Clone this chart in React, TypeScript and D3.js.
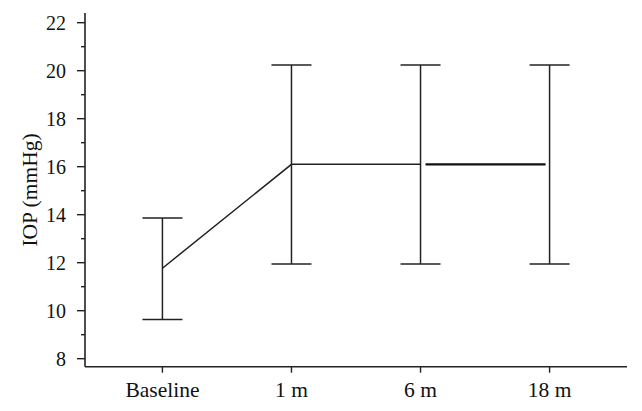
import React from "react";
import * as d3 from "d3";

const categories = ["Baseline", "1 m", "6 m", "18 m"];
const means = [11.77, 16.1, 16.1, 16.1];
const upper = [13.86, 20.24, 20.24, 20.24];
const lower = [9.63, 11.95, 11.95, 11.95];
const yTicks = [8, 10, 12, 14, 16, 18, 20, 22];
const yMinorTicks = [9, 11, 13, 15, 17, 19, 21];

const W = 642;
const H = 411;
const left = 85;
const right = 627;
const top = 13;
const bottom = 366.7;

export default function App() {
  const x = d3.scalePoint<string>().domain(categories).range([left, right]).padding(0.6);
  const y = d3.scaleLinear().domain([8, 22]).range([358.7, 22.7]);
  const font = "'Liberation Serif', 'Times New Roman', serif";
  const stroke = "#222";
  const cap = 20;

  const firstLine = d3
    .line<number>()
    .x((_, i) => x(categories[i]) as number)
    .y((d) => y(d));

  const pts = means.slice(0, 3);

  return (
    <svg
      width={W}
      height={H}
      style={{ position: "absolute", left: 0, top: 0, background: "#fff" }}
    >
      <rect width={W} height={H} fill="#fff" />
      <line x1={left} x2={left} y1={top} y2={bottom} stroke={stroke} strokeWidth={1.6} />
      <line x1={left} x2={right} y1={bottom} y2={bottom} stroke={stroke} strokeWidth={1.6} />
      {yTicks.map((t) => (
        <g key={"yt" + t}>
          <line x1={left - 8} x2={left} y1={y(t)} y2={y(t)} stroke={stroke} strokeWidth={1.4} />
          <text
            x={left - 19}
            y={y(t)}
            dy="0.35em"
            textAnchor="end"
            fontFamily={font}
            fontSize={20}
            fill="#111"
          >
            {t}
          </text>
        </g>
      ))}
      {yMinorTicks.map((t) => (
        <line key={"ym" + t} x1={left - 4} x2={left} y1={y(t)} y2={y(t)} stroke={stroke} strokeWidth={1.4} />
      ))}
      {categories.map((c) => (
        <g key={"xt" + c}>
          <line x1={x(c)} x2={x(c)} y1={bottom} y2={bottom + 6} stroke={stroke} strokeWidth={1.4} />
          <text
            x={x(c)}
            y={397.3}
            textAnchor="middle"
            fontFamily={font}
            fontSize={21.5}
            fill="#111"
          >
            {c}
          </text>
        </g>
      ))}
      <text
        transform={`translate(37, ${y(15.03)}) rotate(-90)`}
        textAnchor="middle"
        fontFamily={font}
        fontSize={21.5}
        fill="#111"
      >
        IOP (mmHg)
      </text>
      {categories.map((c, i) => {
        const cx = x(c) as number;
        return (
          <g key={"eb" + c}>
            <line x1={cx} x2={cx} y1={y(upper[i])} y2={y(lower[i])} stroke={stroke} strokeWidth={1.5} />
            <line x1={cx - cap} x2={cx + cap} y1={y(upper[i])} y2={y(upper[i])} stroke={stroke} strokeWidth={1.5} />
            <line x1={cx - cap} x2={cx + cap} y1={y(lower[i])} y2={y(lower[i])} stroke={stroke} strokeWidth={1.5} />
          </g>
        );
      })}
      <path d={firstLine(pts) || ""} fill="none" stroke={stroke} strokeWidth={1.5} />
      <line
        x1={(x(categories[2]) as number) + 5}
        x2={(x(categories[3]) as number) - 4}
        y1={y(means[2])}
        y2={y(means[3])}
        stroke="#111"
        strokeWidth={2.2}
      />
    </svg>
  );
}
